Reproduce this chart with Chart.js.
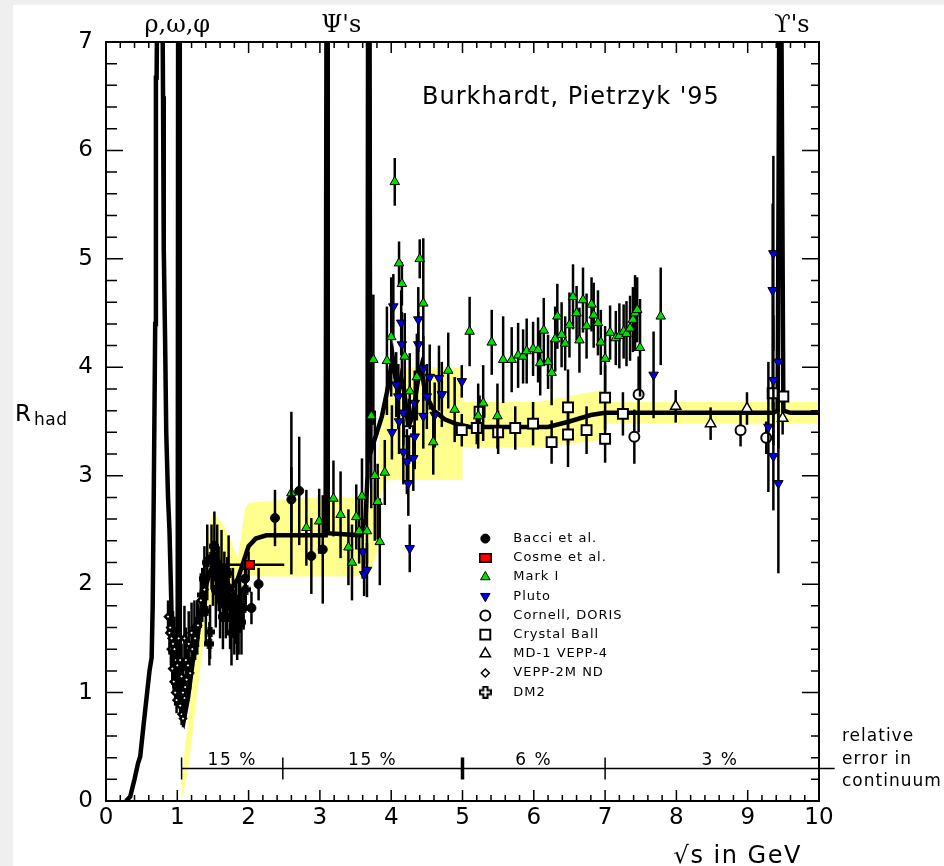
<!DOCTYPE html>
<html>
<head>
<meta charset="utf-8">
<script src="https://cdn.jsdelivr.net/npm/chart.js@4.4.1/dist/chart.umd.min.js"></script>
<style>
    html, body { margin: 0; padding: 0; background: #efefef; }
    #wrap { position: absolute; left: 13px; top: 5px; width: 931px; height: 861px; background: #fff; }
    canvas { display: block; }
</style>
</head>
<body>
<div id="wrap"><canvas id="rhadChart" width="931" height="861"></canvas></div>
<script>
// ------------------- Data -------------------
// theory curve (thick line), sqrt(s) in GeV vs R_had
const curveX = [0.28, 0.34, 0.40, 0.45, 0.48, 0.53, 0.57, 0.61, 0.64, 0.655, 0.67, 0.68, 0.69, 0.70, 0.71, 0.72, 0.79, 0.80, 0.81, 0.83,
    0.845, 0.87, 0.89, 0.915, 0.93, 0.96, 0.99, 1.005, 1.012, 1.028, 1.035, 1.06, 1.09, 1.15, 1.22, 1.28, 1.36, 1.45, 1.55, 1.65,
    1.75, 1.85, 1.95, 2.00, 2.10, 2.25, 3.08, 3.093, 3.101, 3.11, 3.56, 3.64, 3.668, 3.676, 3.696, 3.705, 3.75, 3.80, 3.87, 3.95,
    4.02, 4.06, 4.10, 4.14, 4.18, 4.24, 4.30, 4.38, 4.42, 4.48, 4.60, 4.75, 4.90, 5.10, 6.20, 6.50, 6.80, 7.00, 9.36, 9.42,
    9.445, 9.47, 9.50, 9.60, 10.0];
const curveY = [0.00, 0.04, 0.20, 0.35, 0.41, 0.72, 0.96, 1.20, 1.32, 1.80, 2.84, 3.60, 4.40, 6.67, 6.67, 7.60, 7.60, 6.50, 5.10, 4.20,
    3.40, 2.80, 2.50, 1.85, 1.30, 1.05, 1.00, 1.10, 7.60, 7.60, 1.00, 0.80, 0.74, 0.95, 1.30, 1.49, 1.88, 2.10, 2.25, 2.10,
    1.95, 2.05, 2.25, 2.35, 2.42, 2.45, 2.45, 7.60, 7.60, 2.47, 2.45, 2.60, 3.00, 7.60, 7.60, 3.20, 3.30, 3.40, 3.55, 3.80,
    4.10, 3.90, 3.75, 3.90, 3.80, 3.45, 3.55, 3.90, 4.00, 3.75, 3.60, 3.52, 3.48, 3.45, 3.45, 3.50, 3.56, 3.58, 3.58, 3.60,
    7.60, 7.60, 3.60, 3.58, 3.58];

// yellow error band of the curve
const bandX  = [1.06, 1.15, 1.25, 1.35, 1.45, 1.50, 1.65, 1.85, 1.95, 2.00, 2.50, 3.00, 3.62, 3.72, 3.80, 3.87, 3.96, 3.97, 5.00, 5.00, 6.05, 6.95, 7.00, 10.0];
const bandHi = [0.20, 0.75, 1.35, 1.95, 2.55, 2.66, 2.55, 2.24, 2.70, 2.75, 2.78, 2.80, 2.80, 2.85, 3.05, 3.67, 3.67, 4.00, 4.00, 3.68, 3.68, 3.79, 3.68, 3.68];
const bandLo = [0.00, 0.28, 0.83, 1.38, 1.75, 1.80, 1.80, 1.75, 2.00, 2.07, 2.07, 2.07, 2.07, 2.10, 2.30, 2.85, 2.96, 2.96, 2.96, 3.26, 3.26, 3.33, 3.48, 3.48];

// measurements
const bacciX   = [1.95, 2.04, 2.14, 2.37, 2.60, 2.71, 2.88, 3.04];
const bacciY   = [2.05, 1.78, 2.00, 2.61, 2.78, 2.86, 2.26, 2.32];
const bacciErr = [0.20, 0.15, 0.15, 0.26, 0.30, 0.50, 0.35, 0.50];

const cosmeX    = [2.00];
const cosmeY    = [2.18];
const cosmeErr  = [0.12];
const cosmeXErr = [0.50];

const markX = [2.60, 2.81, 2.99, 3.19, 3.29, 3.40, 3.45, 3.51, 3.55, 3.59, 3.66, 3.72, 3.75, 3.77, 3.81, 3.84, 3.91, 3.94, 4.00, 4.05,
    4.11, 4.15, 4.19, 4.26, 4.36, 4.40, 4.45, 4.59, 4.80, 4.89, 5.10, 5.22, 5.29, 5.41, 5.49, 5.57, 5.69, 5.78, 5.85, 5.90,
    5.99, 6.06, 6.09, 6.14, 6.20, 6.25, 6.30, 6.33, 6.39, 6.44, 6.50, 6.55, 6.60, 6.64, 6.69, 6.74, 6.81, 6.84, 6.90, 6.94,
    7.00, 7.07, 7.15, 7.20, 7.26, 7.30, 7.35, 7.39, 7.42, 7.45, 7.49, 7.78];
const markY = [2.84, 2.52, 2.58, 2.79, 2.64, 2.34, 2.20, 2.62, 2.49, 2.81, 2.49, 3.55, 4.07, 3.00, 2.76, 2.39, 3.03, 4.06, 4.28, 5.71,
    4.96, 4.77, 4.10, 3.78, 3.91, 5.00, 4.59, 3.31, 3.97, 3.61, 4.33, 3.55, 3.67, 4.23, 3.55, 4.07, 4.07, 4.11, 4.10, 4.15,
    4.17, 4.16, 4.04, 4.34, 4.05, 3.95, 4.26, 4.47, 4.30, 4.22, 4.39, 4.65, 4.50, 4.25, 4.62, 4.38, 4.58, 4.48, 4.41, 4.23,
    4.08, 4.32, 4.27, 4.29, 4.33, 4.31, 4.36, 4.44, 4.50, 4.53, 4.18, 4.47];
const markErr = [0.75, 0.35, 0.30, 0.35, 0.40, 0.35, 0.35, 0.30, 0.30, 0.35, 0.30, 0.85, 0.60, 0.60, 0.35, 0.40, 0.30, 0.50, 0.55, 0.22,
    0.20, 0.20, 0.40, 0.35, 0.40, 0.18, 0.60, 0.30, 0.35, 0.30, 0.32, 0.30, 0.35, 0.30, 0.30, 0.40, 0.30, 0.30, 0.25, 0.30,
    0.25, 0.30, 0.30, 0.30, 0.25, 0.30, 0.30, 0.30, 0.30, 0.25, 0.30, 0.30, 0.25, 0.30, 0.30, 0.30, 0.25, 0.30, 0.30, 0.30,
    0.30, 0.25, 0.25, 0.30, 0.25, 0.30, 0.30, 0.30, 0.35, 0.30, 0.45, 0.45];

const plutoX = [3.60, 3.62, 3.66, 4.01, 4.03, 4.07, 4.10, 4.11, 4.14, 4.15, 4.17, 4.17, 4.22, 4.24, 4.26, 4.31, 4.33, 4.33, 4.38, 4.38,
    4.45, 4.45, 4.50, 4.54, 4.61, 4.67, 4.71, 4.99, 7.68, 9.29, 9.35, 9.36, 9.36, 9.36, 9.43, 9.43];
const plutoY = [2.30, 2.09, 2.13, 3.40, 4.56, 3.84, 3.73, 3.50, 4.41, 4.21, 3.58, 3.22, 3.13, 2.93, 2.33, 3.16, 3.67, 3.36, 4.44, 4.21,
    3.99, 3.55, 3.73, 3.91, 3.56, 3.90, 3.75, 3.87, 3.93, 3.45, 4.71, 5.05, 3.88, 3.18, 4.05, 2.93];
const plutoErr = [0.25, 0.20, 0.25, 0.25, 0.30, 0.30, 0.30, 0.30, 0.30, 0.30, 0.30, 0.30, 0.30, 0.30, 0.22, 0.30, 0.30, 0.30, 0.30, 0.30,
    0.30, 0.30, 0.30, 0.30, 0.30, 0.30, 0.30, 0.15, 0.40, 0.60, 0.80, 0.90, 0.60, 0.50, 0.80, 0.83];

const cornellX   = [7.41, 7.47, 8.90, 9.26];
const cornellY   = [3.36, 3.75, 3.42, 3.35];
const cornellErr = [0.25, 0.35, 0.15, 0.15];

const crystalX   = [4.25, 4.99, 5.20, 5.24, 5.50, 5.74, 5.99, 6.25, 6.48, 6.48, 6.74, 7.00, 7.00, 7.25, 9.35, 9.50];
const crystalY   = [3.41, 3.42, 3.44, 3.59, 3.40, 3.44, 3.48, 3.31, 3.63, 3.38, 3.42, 3.72, 3.34, 3.57, 3.76, 3.73];
const crystalErr = [0.30, 0.15, 0.15, 0.15, 0.20, 0.20, 0.20, 0.20, 0.35, 0.30, 0.22, 0.30, 0.22, 0.20, 0.15, 0.15];

const md1X   = [7.99, 8.48, 8.99, 9.49];
const md1Y   = [3.64, 3.48, 3.62, 3.53];
const md1Err = [0.15, 0.15, 0.15, 0.15];

const veppX = [0.87, 0.89, 0.90, 0.91, 0.92, 0.93, 0.94, 0.95, 0.96, 0.97, 0.98, 0.99, 1.00, 1.02, 1.04, 1.04, 1.06, 1.06, 1.08, 1.08,
    1.10, 1.10, 1.11, 1.12, 1.13, 1.15, 1.16, 1.18, 1.20, 1.21, 1.24, 1.25, 1.28, 1.29, 1.33, 1.38];
const veppY = [1.70, 1.55, 1.60, 1.40, 1.50, 1.22, 1.45, 1.10, 1.40, 1.00, 1.30, 0.93, 1.25, 1.50, 0.88, 1.30, 0.80, 1.15, 0.76, 1.00,
    0.95, 1.50, 1.05, 1.30, 1.12, 1.25, 1.45, 1.18, 1.55, 1.40, 1.60, 1.50, 1.60, 1.62, 1.85, 1.95];
const veppErr = [0.15, 0.20, 0.22, 0.15, 0.30, 0.15, 0.30, 0.12, 0.30, 0.12, 0.30, 0.12, 0.30, 0.30, 0.10, 0.35, 0.10, 0.30, 0.08, 0.28,
    0.10, 0.30, 0.12, 0.30, 0.12, 0.15, 0.30, 0.15, 0.28, 0.18, 0.25, 0.20, 0.25, 0.20, 0.25, 0.25];

const dm2X = [1.35, 1.38, 1.40, 1.42, 1.45, 1.46, 1.48, 1.50, 1.52, 1.54, 1.56, 1.58, 1.60, 1.62, 1.64, 1.66, 1.68, 1.70, 1.72, 1.74,
    1.76, 1.78, 1.80, 1.82, 1.84, 1.86, 1.88, 1.90, 1.93, 1.96];
const dm2Y = [1.90, 2.05, 1.75, 2.20, 1.45, 1.56, 2.25, 2.10, 2.35, 1.95, 2.20, 2.05, 1.85, 2.15, 1.70, 2.00, 1.80, 1.90, 2.10, 1.70,
    1.55, 1.85, 1.65, 1.75, 1.60, 1.70, 1.80, 1.65, 1.78, 1.95];
const dm2Err = [0.25, 0.30, 0.30, 0.35, 0.20, 0.25, 0.30, 0.30, 0.32, 0.35, 0.35, 0.30, 0.35, 0.35, 0.30, 0.30, 0.30, 0.35, 0.35, 0.30,
    0.30, 0.30, 0.30, 0.30, 0.30, 0.35, 0.25, 0.30, 0.20, 0.20];

// relative error of the continuum, drawn as a ruler at R = 0.3
const relErrEdges  = [1.06, 2.48, 5.0, 7.0, 10.22];
const relErrLabels = ['15 %', '15 %', '6 %', '3 %'];
const relErrLevel  = 0.3;

// resonance names above the frame
const resonanceLabels = ['ρ,ω,φ', 'Ψ\'s', 'ϒ\'s'];
const resonanceX      = [1.0, 3.3, 9.62];

const minorStep = 0.2;

// ------------------- Marker images -------------------
function makeCrossIcon(size, fill) {
    const c = document.createElement('canvas');
    c.width = size; c.height = size;
    const g = c.getContext('2d');
    const e = size - 1, a = size * 0.34, b = size * 0.66;
    g.fillStyle = fill;
    g.strokeStyle = '#000';
    g.lineWidth = 2;
    g.beginPath();
    g.moveTo(a, 1); g.lineTo(b, 1); g.lineTo(b, a); g.lineTo(e, a); g.lineTo(e, b); g.lineTo(b, b);
    g.lineTo(b, e); g.lineTo(a, e); g.lineTo(a, b); g.lineTo(1, b); g.lineTo(1, a); g.lineTo(a, a);
    g.closePath();
    g.fill();
    g.stroke();
    return c;
}

function makeRedBox() {
    const c = document.createElement('canvas');
    c.width = 13; c.height = 10;
    const g = c.getContext('2d');
    g.fillStyle = '#000';
    g.fillRect(0, 0, 13, 10);
    g.fillStyle = '#ff0000';
    g.fillRect(1.5, 1.5, 10, 7);
    return c;
}

// ------------------- Datasets -------------------
const pts = (xs, ys) => xs.map((x, i) => ({ x, y: ys[i] }));

function series(label, xs, ys, errs, style) {
    return Object.assign({
        label: label,
        legendLabel: label,
        data: pts(xs, ys),
        yErr: errs,
        order: 1,
        clip: 0,
        pointBorderColor: '#000',
        pointBorderWidth: 1,
        pointRotation: 0
    }, style);
}

const bandShape = pts(bandX, bandHi).concat(pts(bandX, bandLo).reverse());

const datasets = [
    series('Bacci et al.', bacciX, bacciY, bacciErr,
        { pointStyle: 'circle', pointRadius: 4.5, pointBackgroundColor: '#000' }),
    series('Cosme et al.', cosmeX, cosmeY, cosmeErr,
        { pointStyle: makeRedBox(), pointRadius: 6, pointBackgroundColor: '#f00', xErr: cosmeXErr }),
    series('Mark I', markX, markY, markErr,
        { pointStyle: 'triangle', pointRadius: 5.5, pointBackgroundColor: '#00e000' }),
    series('Pluto', plutoX, plutoY, plutoErr,
        { pointStyle: 'triangle', pointRadius: 5.5, pointRotation: 180, pointBackgroundColor: '#0000e0' }),
    series('Cornell, DORIS', cornellX, cornellY, cornellErr,
        { pointStyle: 'circle', pointRadius: 5, pointBackgroundColor: '#fff', pointBorderWidth: 2 }),
    series('Crystal Ball', crystalX, crystalY, crystalErr,
        { pointStyle: 'rect', pointRadius: 7, pointBackgroundColor: '#fff', pointBorderWidth: 2 }),
    series('MD-1 VEPP-4', md1X, md1Y, md1Err,
        { pointStyle: 'triangle', pointRadius: 6, pointBackgroundColor: '#fff', pointBorderWidth: 1.5 }),
    series('VEPP-2M ND', veppX, veppY, veppErr,
        { pointStyle: 'rectRot', pointRadius: 3, pointBackgroundColor: '#fff', pointBorderWidth: 2.5, legendRadius: 4, legendBorder: 1.5 }),
    series('DM2', dm2X, dm2Y, dm2Err,
        { pointStyle: makeCrossIcon(10, '#000'), pointRadius: 5, pointBackgroundColor: '#fff', legendIcon: makeCrossIcon(13, '#fff') }),
    {
        type: 'line',
        label: 'theory',
        data: pts(curveX, curveY),
        borderColor: '#000',
        borderWidth: 4.5,
        pointRadius: 0,
        tension: 0,
        fill: false,
        clip: 0,
        order: 2
    },
    {
        type: 'line',
        label: 'band',
        data: bandShape,
        borderWidth: 0,
        borderColor: 'rgba(0,0,0,0)',
        backgroundColor: '#ffff8e',
        pointRadius: 0,
        tension: 0,
        fill: 'shape',
        clip: 0,
        order: 3
    }
];

// ------------------- Plugins -------------------
function clipToArea(ctx, a) {
    ctx.beginPath();
    ctx.rect(a.left, a.top, a.right - a.left, a.bottom - a.top);
    ctx.clip();
}

const errorBars = {
    id: 'errorBars',
    beforeDatasetDraw(chart, args) {
        const ds = chart.data.datasets[args.index];
        if (!ds.yErr && !ds.xErr) return;
        const { ctx, chartArea, scales: { x, y } } = chart;
        ctx.save();
        clipToArea(ctx, chartArea);
        ctx.strokeStyle = '#000';
        ctx.lineWidth = 2.5;
        ds.data.forEach((p, i) => {
            const px = x.getPixelForValue(p.x);
            const py = y.getPixelForValue(p.y);
            ctx.beginPath();
            if (ds.yErr) {
                ctx.moveTo(px, y.getPixelForValue(p.y - ds.yErr[i]));
                ctx.lineTo(px, y.getPixelForValue(p.y + ds.yErr[i]));
            }
            if (ds.xErr) {
                ctx.moveTo(x.getPixelForValue(p.x - ds.xErr[i]), py);
                ctx.lineTo(x.getPixelForValue(p.x + ds.xErr[i]), py);
            }
            ctx.stroke();
        });
        ctx.restore();
    }
};

const frameTicks = {
    id: 'frameTicks',
    afterDatasetsDraw(chart) {
        const { ctx, chartArea: a, scales: { x, y } } = chart;
        ctx.save();
        ctx.strokeStyle = '#000';
        ctx.lineWidth = 2;
        ctx.strokeRect(a.left, a.top, a.right - a.left, a.bottom - a.top);
        ctx.lineWidth = 1.5;
        ctx.beginPath();
        for (let v = x.min; v <= x.max + 1e-9; v += minorStep) {
            const major = Math.abs(v - Math.round(v)) < 1e-6;
            const px = x.getPixelForValue(v);
            const len = major ? 11 : 6;
            ctx.moveTo(px, a.bottom); ctx.lineTo(px, a.bottom - len);
            ctx.moveTo(px, a.top); ctx.lineTo(px, a.top + len);
        }
        for (let v = y.min; v <= y.max + 1e-9; v += minorStep) {
            const major = Math.abs(v - Math.round(v)) < 1e-6;
            const py = y.getPixelForValue(v);
            ctx.moveTo(a.left, py); ctx.lineTo(a.left + (major ? 17 : 11), py);
            ctx.moveTo(a.right, py); ctx.lineTo(a.right - (major ? 17 : 8), py);
        }
        ctx.stroke();
        ctx.restore();
    }
};

function spaced(ctx, px) {
    if ('letterSpacing' in ctx) ctx.letterSpacing = px + 'px';
}

function drawMarker(ctx, ds, cx, cy) {
    const border = ds.legendBorder || ds.pointBorderWidth;
    ctx.fillStyle = ds.pointBackgroundColor;
    ctx.strokeStyle = ds.pointBorderColor;
    ctx.lineWidth = border;
    const opts = {
        pointStyle: ds.legendIcon || ds.pointStyle,
        rotation: ds.pointRotation,
        radius: ds.legendRadius || ds.pointRadius,
        borderWidth: border
    };
    if (Chart.helpers && Chart.helpers.drawPoint) {
        Chart.helpers.drawPoint(ctx, opts, cx, cy);
    } else {
        ctx.beginPath();
        ctx.arc(cx, cy, opts.radius, 0, Math.PI * 2);
        ctx.fill();
        ctx.stroke();
    }
}

const annotations = {
    id: 'annotations',
    afterDraw(chart) {
        const { ctx, chartArea: a, scales: { x, y } } = chart;
        ctx.save();
        ctx.fillStyle = '#000';
        ctx.strokeStyle = '#000';
        ctx.textBaseline = 'middle';

        // resonance names
        ctx.font = '24px "DejaVu Serif", "Liberation Serif", serif';
        ctx.textAlign = 'center';
        spaced(ctx, 0);
        resonanceLabels.forEach((t, i) => {
            ctx.fillText(t, x.getPixelForValue(resonanceX[i]), a.top - 16);
        });

        // reference
        ctx.font = '24px "DejaVu Sans"';
        spaced(ctx, 1);
        ctx.fillText('Burkhardt, Pietrzyk \'95', x.getPixelForValue(6.52), y.getPixelForValue(6.49));

        // relative error ruler
        const ly = y.getPixelForValue(relErrLevel);
        ctx.lineWidth = 1.5;
        ctx.beginPath();
        ctx.moveTo(x.getPixelForValue(relErrEdges[0]), ly);
        ctx.lineTo(x.getPixelForValue(relErrEdges[relErrEdges.length - 1]), ly);
        ctx.stroke();
        relErrEdges.slice(0, -1).forEach(v => {
            const px = x.getPixelForValue(v);
            ctx.lineWidth = v === 5.0 ? 3.5 : 1.5;
            ctx.beginPath();
            ctx.moveTo(px, ly - 11);
            ctx.lineTo(px, ly + 11);
            ctx.stroke();
        });
        ctx.font = '17px "DejaVu Sans"';
        spaced(ctx, 1.5);
        ctx.textBaseline = 'alphabetic';
        relErrLabels.forEach((t, i) => {
            const mid = (relErrEdges[i] + relErrEdges[i + 1]) / 2;
            ctx.fillText(t, x.getPixelForValue(mid), ly - 3);
        });
        ctx.textAlign = 'left';
        ctx.textBaseline = 'middle';
        spaced(ctx, 1);
        ctx.fillText('relative', a.right + 23, ly - 32);
        ctx.fillText('error in', a.right + 23, ly - 9);
        ctx.fillText('continuum', a.right + 23, ly + 13);

        // legend
        const lx = x.getPixelForValue(5.32);
        const ly0 = y.getPixelForValue(2.42);
        ctx.font = '13px "DejaVu Sans"';
        chart.data.datasets.filter(d => d.legendLabel).forEach((d, i) => {
            const cy = ly0 + i * 19.2;
            ctx.save();
            drawMarker(ctx, d, lx, cy);
            ctx.restore();
            ctx.fillStyle = '#000';
            spaced(ctx, 1);
            ctx.fillText(d.legendLabel, lx + 28, cy);
        });

        // axis titles
        ctx.font = '24px "DejaVu Sans"';
        ctx.textAlign = 'center';
        spaced(ctx, 1.5);
        ctx.fillText('√s in GeV', x.getPixelForValue(8.86), a.bottom + 56);

        ctx.textAlign = 'left';
        spaced(ctx, 0);
        ctx.font = '23px "DejaVu Sans"';
        const ry = y.getPixelForValue(3.56);
        const rx = a.left - 91;
        ctx.fillText('R', rx, ry);
        const rw = ctx.measureText('R').width;
        ctx.font = '17px "DejaVu Sans"';
        spaced(ctx, 0.5);
        ctx.fillText('had', rx + rw + 3, ry + 6);
        ctx.restore();
    }
};

// ------------------- Chart -------------------
Chart.defaults.font.family = '"DejaVu Sans"';
Chart.defaults.color = '#000';

function initRhadChart() {
    const el = document.getElementById('rhadChart');
    new Chart(el.getContext('2d'), {
        type: 'scatter',
        data: { datasets: datasets },
        options: {
            responsive: false,
            animation: false,
            events: [],
            layout: { padding: { left: 0, top: 37, right: 125, bottom: 25 } },
            plugins: { legend: { display: false }, tooltip: { enabled: false } },
            scales: {
                x: {
                    type: 'linear', min: 0, max: 10,
                    afterFit: s => { s.height = 40; },
                    grid: { display: false, drawTicks: false },
                    border: { display: false },
                    ticks: { stepSize: 1, padding: 3, autoSkip: false, maxRotation: 0, font: { size: 23 } }
                },
                y: {
                    type: 'linear', min: 0, max: 7,
                    afterFit: s => { s.width = 93; },
                    grid: { display: false, drawTicks: false },
                    border: { display: false },
                    ticks: { stepSize: 1, padding: 13, font: { size: 23 } }
                }
            }
        },
        plugins: [errorBars, frameTicks, annotations]
    });
}

document.addEventListener('DOMContentLoaded', initRhadChart);
</script>
</body>
</html>
